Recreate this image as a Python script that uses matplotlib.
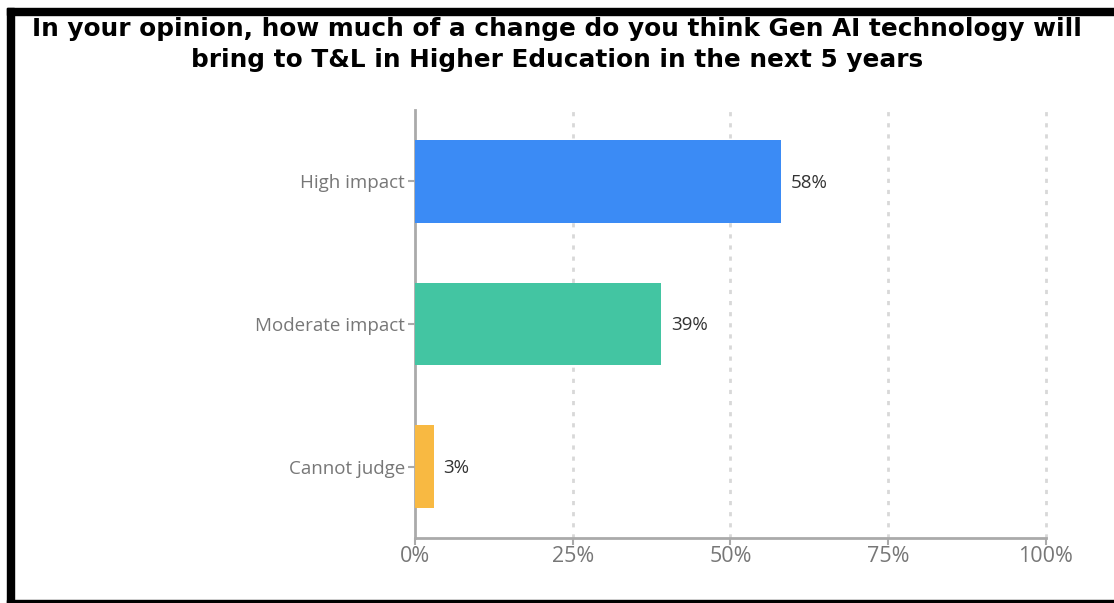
import matplotlib.pyplot as plt
from matplotlib.patches import Rectangle
import numpy as np

categories = ['High impact', 'Moderate impact', 'Cannot judge']
values = [58, 39, 3]
colors = ['#3b8bf5', '#43c5a2', '#f8b942']
xticks = [0, 25, 50, 75, 100]
xticklabels = ['0%', '25%', '50%', '75%', '100%']
title = ('In your opinion, how much of a change do you think Gen AI technology will\n'
         'bring to T&L in Higher Education in the next 5 years')

fig = plt.figure(figsize=(11.14, 6.03), dpi=100)
ax = fig.add_axes([0.3725, 0.1078, 0.5664, 0.7098])

y = np.arange(len(categories))
ax.barh(y, values, height=0.58, color=colors, zorder=3)
for yi, v in zip(y, values):
    ax.annotate(f'{v}%', (v, yi), xytext=(7, -1), textcoords='offset points',
                va='center', ha='left', fontsize=13.5, color='#333333',
                family='Open Sans')

ax.set_xlim(0, 100)
ax.set_ylim(len(categories) - 0.5, -0.5)
ax.set_yticks(y)
ax.set_yticklabels(categories, family='Open Sans', fontsize=13.5, color='#777777')
ax.set_xticks(xticks)
ax.set_xticklabels(xticklabels, family='Open Sans', fontsize=15.5, color='#777777')

for xv in xticks[1:]:
    ax.axvline(xv, color='#d8d8d8', lw=2, ls=(0, (1.5, 2.5)), zorder=1,
               clip_on=False)

for s in ['top', 'right']:
    ax.spines[s].set_visible(False)
for s in ['left', 'bottom']:
    ax.spines[s].set_color('#aaaaaa')
    ax.spines[s].set_linewidth(2)
ax.tick_params(axis='y', length=5, width=1.5, color='#aaaaaa', pad=2)
ax.tick_params(axis='x', length=5, width=1.5, color='#aaaaaa', pad=1)

fig.text(0.5, 0.926, title, ha='center', va='center', fontsize=17.8,
         fontweight='bold', color='black', linespacing=1.4)

# black frame around the screenshot
fig.patches.append(Rectangle((7 / 1114, 0), 7 / 1114, 1 - 8 / 603,
                             transform=fig.transFigure, color='black'))
fig.patches.append(Rectangle((7 / 1114, 1 - 15 / 603), 1, 7 / 603,
                             transform=fig.transFigure, color='black'))
fig.patches.append(Rectangle((7 / 1114, 0), 1, 3 / 603,
                             transform=fig.transFigure, color='black'))

fig.savefig('out.png', dpi=100)
